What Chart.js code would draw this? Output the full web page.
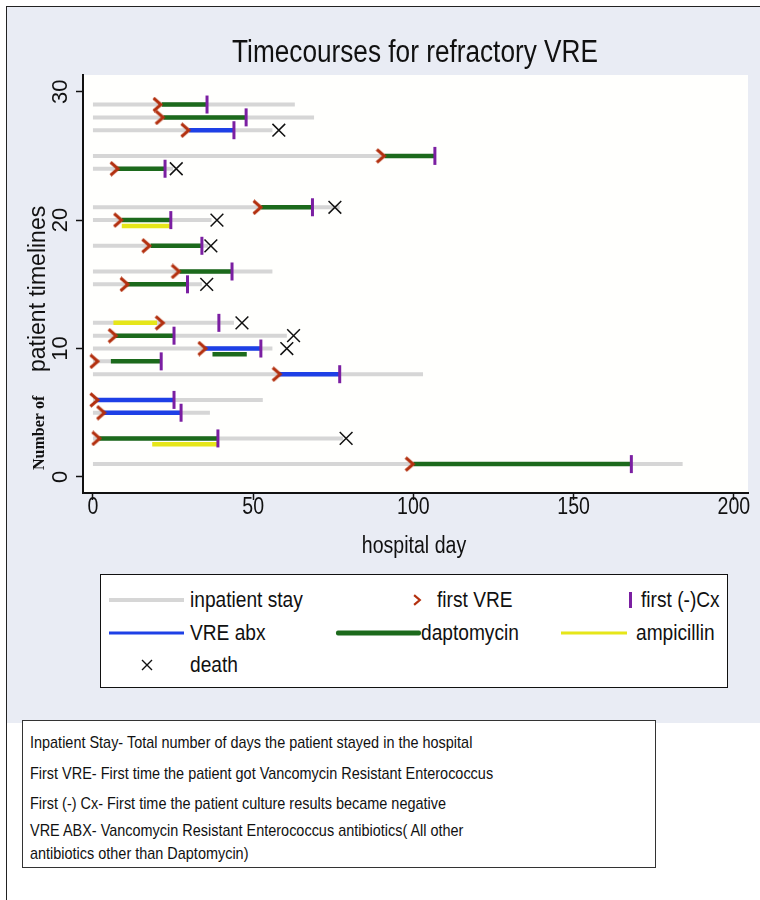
<!DOCTYPE html>
<html>
<head>
<meta charset="utf-8">
<script src="https://cdn.jsdelivr.net/npm/chart.js@4.4.1/dist/chart.umd.min.js"></script>
<style>
  body { margin: 0; background: #fff; }
  #page { position: relative; width: 760px; height: 900px; overflow: hidden;
          font-family: "Liberation Sans", Arial, sans-serif; color: #111; }
  #frame { position: absolute; left: 6px; top: 6px; width: 754px; height: 894px;
           border-left: 1px solid #222; border-top: 1px solid #222; box-sizing: border-box; }
  #band { position: absolute; left: 7px; top: 7px; width: 753px; height: 716px; background: #e9ecf4; }
  #chart { position: absolute; left: 0; top: 0; }
  #legend { position: absolute; left: 100px; top: 574px; width: 628px; height: 114px;
            border: 1.5px solid #111; background: #fff; box-sizing: border-box; }
  .sw { position: absolute; transform: translateY(-50%); }
  /* condensed look: plain sans squeezed sideways */
  .lt { position: absolute; font-size: 22px; line-height: 24px; white-space: nowrap;
        transform-origin: left center; transform: translateY(-50%) scaleX(0.87); }
  #notes { position: absolute; left: 22px; top: 720px; width: 634px; height: 148px;
           border: 1px solid #333; background: #fff; box-sizing: border-box; }
  .nt { position: absolute; left: 30px; font-size: 17px; line-height: 19px; white-space: nowrap;
        transform-origin: left center; transform: translateY(-50%) scaleX(0.85); }
</style>
</head>
<body>
<div id="page">
  <div id="frame"></div>
  <div id="band"></div>
  <canvas id="chart" width="760" height="722"></canvas>

  <div id="legend"></div>
  <div class="sw" style="left:109px;top:600px;width:75px;height:4px;background:#d6d6d6"></div>
  <div class="lt" style="left:190px;top:600px">inpatient stay</div>
  <canvas class="sw" id="lgArrow" width="9" height="12" style="left:413px;top:600px"></canvas>
  <div class="lt" style="left:437px;top:600px">first VRE</div>
  <div class="sw" style="left:629px;top:600px;width:3px;height:16px;background:#7b1fa2"></div>
  <div class="lt" style="left:641px;top:600px">first (-)Cx</div>

  <div class="sw" style="left:109px;top:633px;width:75px;height:3px;background:#1e40e6"></div>
  <div class="lt" style="left:190px;top:633px">VRE abx</div>
  <div class="sw" style="left:336px;top:633px;width:85px;height:5px;background:#1c6a1c;border-radius:2px"></div>
  <div class="lt" style="left:421px;top:633px">daptomycin</div>
  <div class="sw" style="left:561px;top:633px;width:66px;height:3px;background:#e6e619"></div>
  <div class="lt" style="left:636px;top:633px">ampicillin</div>

  <svg class="sw" style="left:141px;top:665px" width="12" height="12">
    <path d="M1 1 L11 11 M11 1 L1 11" stroke="#111" stroke-width="1.4" fill="none"/>
  </svg>
  <div class="lt" style="left:190px;top:665px">death</div>

  <div id="notes"></div>
  <div class="nt" style="top:742px">Inpatient Stay- Total number of days the patient stayed in the hospital</div>
  <div class="nt" style="top:773px">First VRE- First time the patient got Vancomycin Resistant Enterococcus</div>
  <div class="nt" style="top:803px">First (-) Cx- First time the patient culture results became negative</div>
  <div class="nt" style="top:830px">VRE ABX- Vancomycin Resistant Enterococcus antibiotics( All other</div>
  <div class="nt" style="top:853px">antibiotics other than Daptomycin)</div>
</div>

<script>
// one entry per patient timeline (row number on the y axis)
const patientRow  = [1, 3, 5, 6, 8, 9, 10, 11, 12, 15, 16, 18, 20, 21, 24, 25, 27, 28, 29];
const stayDays    = [184, 78, 36.5, 53, 103, 21, 56, 60.5, 44, 34, 56, 36, 37, 77, 25, 106, 56, 69, 63];
const firstVRE    = [99, 1.2, 2.7, 0.6, 57.5, 0.6, 34.3, 6.3, 21, 10, 26, 16.8, 8, 51.5, 6.9, 90, 29, 21, 20.3];
const firstNegCx  = [168, 39, 27.5, 25.3, 77, 21.3, 52.4, 25.3, 39.3, 29.5, 43.4, 34, 24.3, 68.5, 22.5, 106.7, 44, 47.8, 35.6];
const deathDay    = [null, 79, null, null, null, null, 60.5, 62.6, 46.5, 35.5, null, 36.8, 38.7, 75.5, 26, null, 58, null, null];

const vreAbxStart = [null, null, 3, 1, 58, null, 35, null, null, null, null, null, null, null, null, null, 30, null, null];
const vreAbxEnd   = [null, null, 27.5, 25.3, 77, null, 52.4, null, null, null, null, null, null, null, null, null, 44, null, null];
const daptoStart  = [100, 2, null, null, null, 5.6, 37.3, 7, null, 10.5, 27, 18, 9, 52.5, 7.5, 91, null, 22, 21.5];
const daptoEnd    = [168, 39, null, null, null, 21.3, 48, 25.3, null, 29.4, 43.4, 34, 24.3, 68.5, 22.5, 106.7, null, 47.8, 35.6];
const ampStart    = [null, 18.5, null, null, null, null, null, null, 6.4, null, null, null, 9, null, null, null, null, null, null];
const ampEnd      = [null, 39, null, null, null, null, null, null, 20, null, null, null, 24.3, null, null, null, null, null, null];

const xTicks = [0, 50, 100, 150, 200];
const yTicks = [0, 10, 20, 30];

const SANS = '"Liberation Sans", Arial, sans-serif';

function chevron(w, h, lw, color) {
    const c = document.createElement('canvas');
    c.width = w; c.height = h;
    const g = c.getContext('2d');
    g.strokeStyle = color;
    g.lineWidth = lw;
    g.beginPath();
    g.moveTo(lw / 2, lw / 2);
    g.lineTo(w - lw, h / 2);
    g.lineTo(lw / 2, h - lw / 2);
    g.stroke();
    return c;
}
const arrowImg = chevron(12, 16, 3, '#b3300f');
document.getElementById('lgArrow').getContext('2d').drawImage(chevron(9, 12, 2.2, '#b3300f'), 0, 0);

// gray stay lines, day 0 to discharge
const stayPts = [];
patientRow.forEach((row, i) => {
    stayPts.push({ x: 0, y: row }, { x: stayDays[i], y: row }, { x: stayDays[i], y: null });
});

// therapy bars; a bar overlapping an earlier one on the same row drops a little lower
const therapies = [
    { label: 'VRE abx', starts: vreAbxStart, ends: vreAbxEnd, color: '#1e40e6' },
    { label: 'daptomycin', starts: daptoStart, ends: daptoEnd, color: '#1c6a1c' },
    { label: 'ampicillin', starts: ampStart, ends: ampEnd, color: '#e6e619' }
];
const used = patientRow.map(() => []);
therapies.forEach(t => {
    t.points = [];
    patientRow.forEach((row, i) => {
        const s = t.starts[i], e = t.ends[i];
        if (s == null) return;
        const lane = used[i].filter(([a, b]) => a < e && s < b).length;
        used[i].push([s, e]);
        const y = row - lane * 0.45;
        t.points.push({ x: s, y: y }, { x: e, y: y }, { x: e, y: null });
    });
});

const vrePts = patientRow.map((row, i) => ({ x: firstVRE[i], y: row }));
const cxPts = patientRow.map((row, i) => ({ x: firstNegCx[i], y: row }));
const deathPts = patientRow.map((row, i) => ({ x: deathDay[i], y: deathDay[i] == null ? null : row }));

// narrow text by squeezing the plain sans face
function squeezed(ctx, text, x, y, size, sx) {
    ctx.save();
    ctx.translate(x, y);
    ctx.scale(sx, 1);
    ctx.font = size + 'px ' + SANS;
    ctx.fillText(text, 0, 0);
    ctx.restore();
}

const stataText = {
    id: 'stataText',
    beforeDraw(chart) {
        const { ctx, chartArea: a } = chart;
        ctx.save();
        ctx.fillStyle = '#fffffd';
        ctx.fillRect(a.left, a.top, a.right - a.left, a.bottom - a.top);
        ctx.restore();
    },
    afterDraw(chart) {
        const { ctx, scales } = chart;
        ctx.save();
        ctx.fillStyle = '#111';
        ctx.textAlign = 'center';
        ctx.textBaseline = 'middle';

        squeezed(ctx, 'Timecourses for refractory VRE', 415, 53, 31, 0.845);
        squeezed(ctx, 'hospital day', 414, 547, 23, 0.85);
        xTicks.forEach(v => squeezed(ctx, String(v), scales.x.getPixelForValue(v), 508, 23, 0.85));

        // rotated y tick labels
        ctx.font = '22px ' + SANS;
        yTicks.forEach(v => {
            ctx.save();
            ctx.translate(60, scales.y.getPixelForValue(v));
            ctx.rotate(-Math.PI / 2);
            ctx.fillText(String(v), 0, 1);
            ctx.restore();
        });

        // y title: serif "Number of" then sans "patient timelines"
        ctx.translate(39, 470);
        ctx.rotate(-Math.PI / 2);
        ctx.textAlign = 'left';
        ctx.font = 'bold 16px "Liberation Serif", "Times New Roman", serif';
        ctx.fillText('Number of', 0, 1);
        ctx.font = '23px ' + SANS;
        ctx.fillText('patient timelines', 98, 0);
        ctx.restore();
    }
};

const lineDs = (label, data, color, width, order) => ({
    type: 'line', label, data, borderColor: color, borderWidth: width,
    pointRadius: 0, spanGaps: false, borderCapStyle: 'butt', order
});

new Chart(document.getElementById('chart'), {
    type: 'line',
    data: {
        datasets: [
            {
                type: 'scatter', label: 'first VRE', data: vrePts, pointStyle: arrowImg,
                pointRadius: 8, order: 0
            },
            {
                type: 'scatter', label: 'first (-)Cx', data: cxPts, pointStyle: 'line', rotation: 90,
                pointRadius: 9, borderColor: '#7b1fa2', pointBorderWidth: 3, borderWidth: 3, order: 0
            },
            {
                type: 'scatter', label: 'death', data: deathPts, pointStyle: 'crossRot',
                pointRadius: 9, borderColor: '#111', pointBorderWidth: 1.5, borderWidth: 1.5, order: 0
            },
            ...therapies.map(t => lineDs(t.label, t.points, t.color, 4.5, 1)),
            lineDs('inpatient stay', stayPts, '#d6d6d6', 4, 2)
        ]
    },
    options: {
        responsive: false,
        animation: false,
        events: [],
        layout: { padding: { left: 75, top: 75, right: 12, bottom: 221 } },
        plugins: { legend: { display: false }, tooltip: { enabled: false }, title: { display: false } },
        scales: {
            x: {
                type: 'linear', min: -3.1, max: 204.4,
                afterBuildTicks: s => { s.ticks = xTicks.map(v => ({ value: v })); },
                afterFit: s => { s.height = 8; },
                grid: { drawOnChartArea: false, drawTicks: true, tickLength: 7, tickColor: '#111', tickWidth: 1.5 },
                border: { display: true, color: '#111', width: 2 },
                ticks: { display: false }
            },
            y: {
                type: 'linear', min: -1.25, max: 31.3,
                afterBuildTicks: s => { s.ticks = yTicks.map(v => ({ value: v })); },
                afterFit: s => { s.width = 8; },
                grid: { drawOnChartArea: false, drawTicks: true, tickLength: 7, tickColor: '#111', tickWidth: 1.5 },
                border: { display: true, color: '#111', width: 2 },
                ticks: { display: false }
            }
        }
    },
    plugins: [stataText]
});
</script>
</body>
</html>
